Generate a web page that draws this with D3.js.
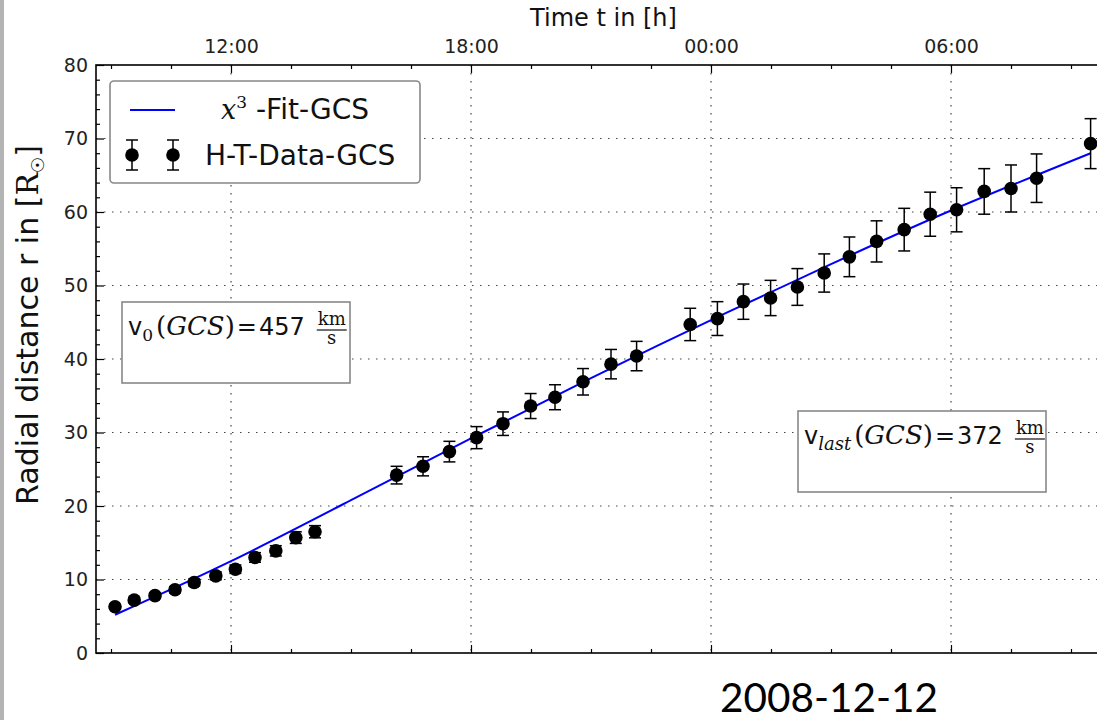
<!DOCTYPE html>
<html>
<head>
<meta charset="utf-8">
<script src="https://d3js.org/d3.v7.min.js"></script>
<style>
body { margin: 0; background: #fff; }
</style>
</head>
<body>
<script>
// height-time data (hours since 2008-12-12 00:00 UT), radial distance in R_sun
var hours = [9.1, 9.58, 10.1, 10.6, 11.08, 11.62, 12.11, 12.6, 13.12, 13.62, 14.1,
             16.14, 16.8, 17.46, 18.14, 18.8, 19.49, 20.1, 20.8, 21.5, 22.14,
             23.48, 24.16, 24.81, 25.49, 26.16, 26.83, 27.46, 28.14, 28.83, 29.48, 30.14, 30.83, 31.5, 32.14, 33.49];
var radius = [6.3, 7.2, 7.8, 8.6, 9.6, 10.5, 11.4, 13.0, 13.9, 15.7, 16.5,
              24.2, 25.4, 27.4, 29.3, 31.2, 33.6, 34.8, 36.9, 39.3, 40.4,
              44.7, 45.5, 47.8, 48.3, 49.8, 51.7, 53.9, 56.0, 57.6, 59.7, 60.3, 62.8, 63.2, 64.6, 69.3];
var errors = [0.3, 0.36, 0.39, 0.43, 0.48, 0.53, 0.57, 0.65, 0.7, 0.79, 0.83,
              1.2, 1.3, 1.4, 1.5, 1.6, 1.7, 1.7, 1.8, 2.0, 2.0,
              2.2, 2.3, 2.4, 2.4, 2.5, 2.6, 2.7, 2.8, 2.9, 3.0, 3.0, 3.1, 3.2, 3.3, 3.4];
// x^3 fit curve
var fitHours = [9.1, 12, 15, 18, 21, 24, 27, 30, 33.49];
var fitRadius = [5.2, 12.5, 20.8, 29.2, 37.4, 45.3, 52.9, 60.2, 68.0];

var majorHours = [12, 18, 24, 30];
var majorLabels = ["12:00", "18:00", "00:00", "06:00"];
var minorHours = [9, 10.5, 13.5, 15, 16.5, 19.5, 21, 22.5, 25.5, 27, 28.5, 31.5, 33];
var rTicks = [0, 10, 20, 30, 40, 50, 60, 70, 80];
var rMinor = d3.range(2, 80, 2).filter(function(v){ return v % 10 != 0; });

var w = 1097, h = 720;
var L = 96, R = 1111, T = 65, B = 653;

var x = d3.scaleLinear().domain([8.625, 34]).range([L, R]);
var y = d3.scaleLinear().domain([0, 80]).range([B, T]);

var svg = d3.select("body").append("svg").attr("width", w).attr("height", h)
  .attr("font-family", "DejaVu Sans").attr("fill", "#111");
svg.append("rect").attr("width", w).attr("height", h).attr("fill", "#fff");
svg.append("rect").attr("x", 0).attr("y", 0).attr("width", 4).attr("height", h).attr("fill", "#b4b4b4");

// grid
var grid = svg.append("g").attr("stroke", "#444").attr("stroke-width", 1.2).attr("stroke-dasharray", "1.5,6.5");
grid.selectAll(".gx").data(majorHours).enter().append("line")
  .attr("x1", function(d){ return x(d); }).attr("x2", function(d){ return x(d); })
  .attr("y1", T).attr("y2", B);
grid.selectAll(".gy").data(rTicks.slice(1, -1)).enter().append("line")
  .attr("y1", function(d){ return y(d); }).attr("y2", function(d){ return y(d); })
  .attr("x1", L).attr("x2", R);

// axes (ticks pointing inwards)
function styleAxis(g) {
  g.attr("font-family", "DejaVu Sans");
  g.select(".domain").remove();
  g.selectAll(".tick line").attr("stroke", "#000").attr("stroke-width", 1.2);
  g.selectAll(".tick text").attr("font-size", 19).attr("fill", "#222");
}
svg.append("g").attr("transform", "translate(0," + T + ")")
  .call(d3.axisTop(x).tickValues(majorHours).tickFormat(function(d, i){ return majorLabels[i]; })
    .tickSizeInner(-8).tickSizeOuter(0).tickPadding(12)).call(styleAxis);
svg.append("g").attr("transform", "translate(0," + T + ")")
  .call(d3.axisTop(x).tickValues(minorHours).tickFormat("").tickSizeInner(-4).tickSizeOuter(0)).call(styleAxis);
svg.append("g").attr("transform", "translate(0," + B + ")")
  .call(d3.axisBottom(x).tickValues(majorHours).tickFormat("").tickSizeInner(-8).tickSizeOuter(0)).call(styleAxis);
svg.append("g").attr("transform", "translate(0," + B + ")")
  .call(d3.axisBottom(x).tickValues(minorHours).tickFormat("").tickSizeInner(-4).tickSizeOuter(0)).call(styleAxis);
svg.append("g").attr("transform", "translate(" + L + ",0)")
  .call(d3.axisLeft(y).tickValues(rTicks).tickSizeInner(-8).tickSizeOuter(0).tickPadding(8)).call(styleAxis);
svg.append("g").attr("transform", "translate(" + L + ",0)")
  .call(d3.axisLeft(y).tickValues(rMinor).tickFormat("").tickSizeInner(-4).tickSizeOuter(0)).call(styleAxis);

svg.append("rect").attr("x", L).attr("y", T).attr("width", R - L).attr("height", B - T)
  .attr("fill", "none").attr("stroke", "#000").attr("stroke-width", 1.6);

// fit line
var fitData = fitHours.map(function(d, i){ return [d, fitRadius[i]]; });
var line = d3.line().x(function(d){ return x(d[0]); }).y(function(d){ return y(d[1]); }).curve(d3.curveNatural);
svg.append("path").attr("d", line(fitData)).attr("fill", "none").attr("stroke", "#0000ff").attr("stroke-width", 2);

// error bars + markers
var pts = hours.map(function(d, i){ return { t: d, r: radius[i], e: errors[i] }; });
var eb = svg.append("g").attr("stroke", "#000").attr("stroke-width", 1.5);
pts.forEach(function(p){
  var cx = x(p.t), y1 = y(p.r - p.e), y2 = y(p.r + p.e);
  eb.append("line").attr("x1", cx).attr("x2", cx).attr("y1", y1).attr("y2", y2);
  eb.append("line").attr("x1", cx - 6).attr("x2", cx + 6).attr("y1", y1).attr("y2", y1);
  eb.append("line").attr("x1", cx - 6).attr("x2", cx + 6).attr("y1", y2).attr("y2", y2);
});
svg.append("g").selectAll("circle").data(pts).enter().append("circle")
  .attr("cx", function(d){ return x(d.t); }).attr("cy", function(d){ return y(d.r); })
  .attr("r", 6.8).attr("fill", "#000");

// titles
svg.append("text").attr("x", (L + R) / 2).attr("y", 26).attr("text-anchor", "middle")
  .attr("font-size", 24).text("Time t in [h]");
var yl = svg.append("text").attr("transform", "translate(38," + 325 + ") rotate(-90)")
  .attr("text-anchor", "middle").attr("font-size", 30);
yl.append("tspan").text("Radial distance r in [");
yl.append("tspan").attr("font-family", "DejaVu Serif").text("R");
yl.append("tspan").attr("font-size", 18).attr("dy", 6).text("\u2609");
yl.append("tspan").attr("dy", -6).text("]");

// math-like text helper
function mathText(g, x0, y0, parts) {
  var t = g.append("text").attr("x", x0).attr("y", y0);
  parts.forEach(function(p){
    t.append("tspan").attr("font-family", p.f || "DejaVu Sans")
      .attr("font-style", p.i ? "italic" : "normal")
      .attr("font-size", p.s).attr("dy", p.dy || 0).attr("dx", p.dx || 0).text(p.t);
  });
  return t;
}
function fraction(g, fx, y0, top, bot) {
  var a = g.append("text").attr("x", fx).attr("y", y0 - 10).attr("font-family", "DejaVu Serif")
    .attr("font-size", 18).attr("text-anchor", "middle").text(top);
  var fw = a.node().getComputedTextLength();
  a.attr("x", fx + fw / 2 + 1);
  g.append("line").attr("x1", fx).attr("x2", fx + fw + 2).attr("y1", y0 - 5).attr("y2", y0 - 5)
    .attr("stroke", "#111").attr("stroke-width", 1.2);
  g.append("text").attr("x", fx + fw / 2 + 1).attr("y", y0 + 9).attr("font-family", "DejaVu Serif")
    .attr("font-size", 18).attr("text-anchor", "middle").text(bot);
}

// annotation boxes
function annotation(bx, by, bw, bh, sub, subItalic, subSize, value) {
  var g = svg.append("g");
  g.append("rect").attr("x", bx).attr("y", by).attr("width", bw).attr("height", bh)
    .attr("fill", "#fff").attr("stroke", "#888").attr("stroke-width", 1.6);
  var tx = bx + 6, ty = by + 33;
  var t = mathText(g, tx, ty, [
    { t: "v", s: 24 },
    { t: sub, s: subSize, f: "DejaVu Serif", i: subItalic, dy: 6 },
    { t: "(", s: 26, f: "DejaVu Serif", dy: -6, dx: 3 },
    { t: "GCS", s: 26, f: "DejaVu Serif", i: true },
    { t: ")", s: 26, f: "DejaVu Serif" },
    { t: "=", s: 24, dx: 2 },
    { t: value, s: 24, dx: 2 }
  ]);
  var tw = t.node().getBBox().width;
  fraction(g, tx + tw + 12, ty, "km", "s");
}
annotation(122, 302, 228, 81, "0", false, 17, "457");
annotation(798, 411, 248, 81, "last", true, 18, "372");

// legend
var lg = svg.append("g");
lg.append("rect").attr("x", 110).attr("y", 81).attr("width", 310).attr("height", 102).attr("rx", 4)
  .attr("fill", "#fff").attr("stroke", "#888").attr("stroke-width", 1.6);
lg.append("line").attr("x1", 130).attr("x2", 175).attr("y1", 110).attr("y2", 110)
  .attr("stroke", "#0000ff").attr("stroke-width", 2);
mathText(lg, 221, 119, [
  { t: "x", s: 27, f: "DejaVu Serif", i: true },
  { t: "3", s: 17, f: "DejaVu Serif", dy: -11 },
  { t: " -Fit-GCS", s: 28, dy: 11 }
]);
[132, 173].forEach(function(mx){
  lg.append("line").attr("x1", mx).attr("x2", mx).attr("y1", 140).attr("y2", 170).attr("stroke", "#000").attr("stroke-width", 1.5);
  lg.append("line").attr("x1", mx - 6).attr("x2", mx + 6).attr("y1", 140).attr("y2", 140).attr("stroke", "#000").attr("stroke-width", 1.5);
  lg.append("line").attr("x1", mx - 6).attr("x2", mx + 6).attr("y1", 170).attr("y2", 170).attr("stroke", "#000").attr("stroke-width", 1.5);
  lg.append("circle").attr("cx", mx).attr("cy", 155).attr("r", 6.8).attr("fill", "#000");
});
lg.append("text").attr("x", 205).attr("y", 165).attr("font-size", 28).text("H-T-Data-GCS");

// date
svg.append("text").attr("x", 720).attr("y", 712).attr("font-family", "Lato")
  .attr("font-size", 41).attr("textLength", 218).attr("lengthAdjust", "spacingAndGlyphs")
  .attr("fill", "#000").text("2008-12-12");
</script>
</body>
</html>
